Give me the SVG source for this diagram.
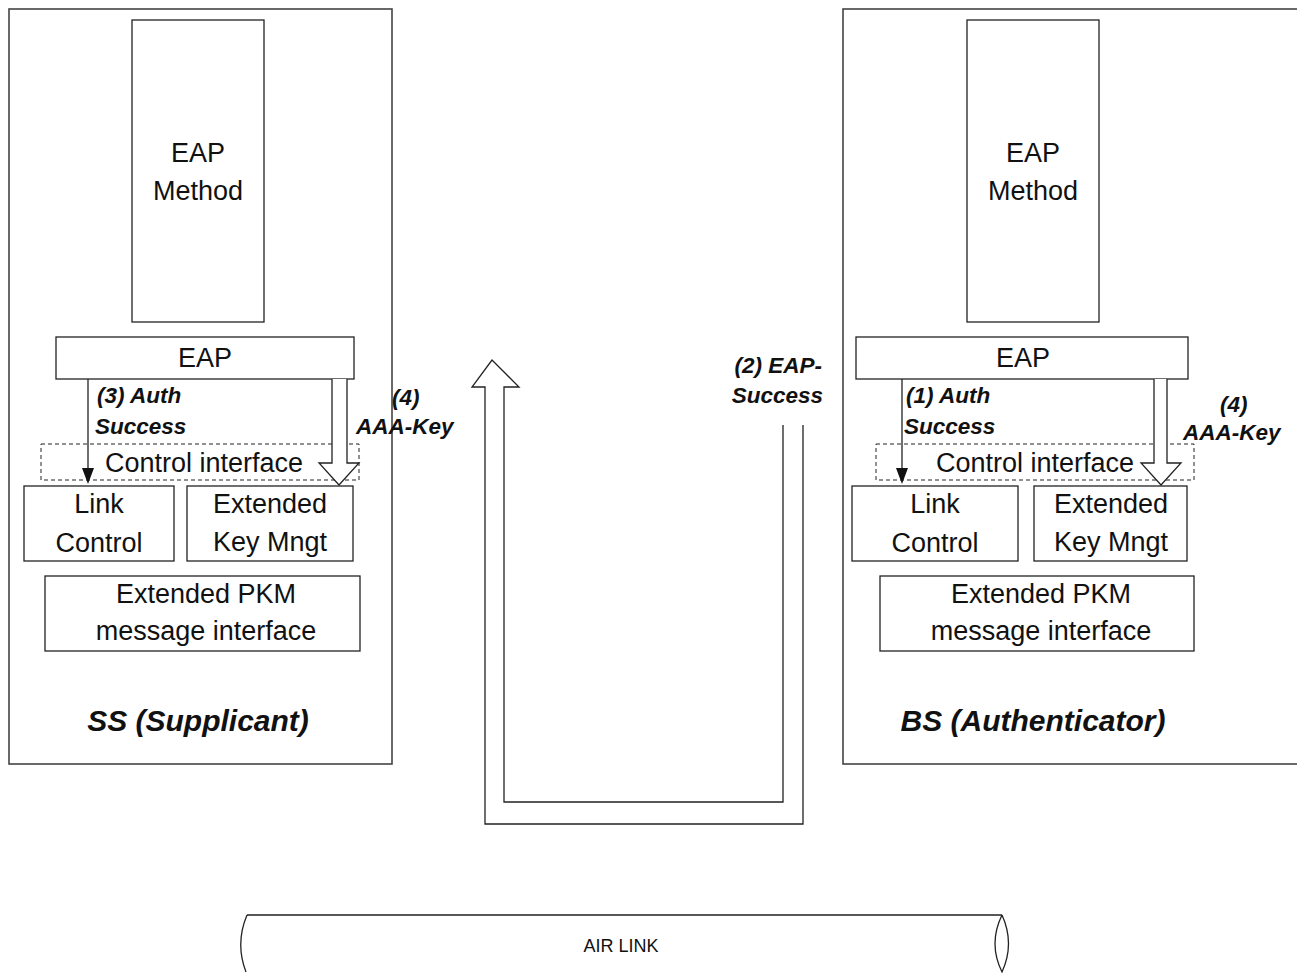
<svg xmlns="http://www.w3.org/2000/svg" width="1297" height="973" viewBox="0 0 1297 973">
  <style>
    .frame { fill: #fff; stroke: #444; stroke-width: 1.6; }
    .box { fill: #fff; stroke: #222; stroke-width: 1.3; }
    .dash { fill: none; stroke: #222; stroke-width: 1; stroke-dasharray: 4 3; }
    .lbl { font-family: "Liberation Sans", Arial, sans-serif; font-size: 27px; fill: #111; text-anchor: middle; }
    .step { font-family: "Liberation Sans", Arial, sans-serif; font-size: 22.5px; font-weight: bold; font-style: italic; fill: #111; }
    .title { font-family: "Liberation Sans", Arial, sans-serif; font-size: 30px; font-weight: bold; font-style: italic; fill: #111; text-anchor: middle; }
    .wire { fill: none; stroke: #222; stroke-width: 1.3; }
    .hollow { fill: #fff; stroke: #222; stroke-width: 1.3; stroke-linejoin: miter; }
    .air { font-family: "Liberation Sans", Arial, sans-serif; font-size: 18px; fill: #111; text-anchor: middle; }
  </style>

  <!-- Supplicant side -->
  <g id="ss">
    <rect class="frame" x="9" y="9" width="383" height="755"/>
    <text class="title" x="198" y="731">SS (Supplicant)</text>
  </g>
  <g id="ss-eap-method">
    <rect class="box" x="132" y="20" width="132" height="302"/>
    <text class="lbl" x="198" y="162">EAP</text>
    <text class="lbl" x="198" y="200">Method</text>
  </g>
  <g id="ss-eap">
    <rect class="box" x="56" y="337" width="298" height="42"/>
    <text class="lbl" x="205" y="367">EAP</text>
  </g>
  <g id="ss-control-interface">
    <rect class="dash" x="41" y="444" width="318" height="36"/>
    <text class="lbl" x="204" y="472">Control interface</text>
  </g>
  <g id="ss-link-control">
    <rect class="box" x="24" y="486" width="150" height="75"/>
    <text class="lbl" x="99" y="513">Link</text>
    <text class="lbl" x="99" y="552">Control</text>
  </g>
  <g id="ss-key-mngt">
    <rect class="box" x="187" y="486" width="166" height="75"/>
    <text class="lbl" x="270" y="513">Extended</text>
    <text class="lbl" x="270" y="551">Key Mngt</text>
  </g>
  <g id="ss-pkm">
    <rect class="box" x="45" y="576" width="315" height="75"/>
    <text class="lbl" x="206" y="603">Extended PKM</text>
    <text class="lbl" x="206" y="640">message interface</text>
  </g>

  <!-- Authenticator side -->
  <g id="bs">
    <rect class="frame" x="843" y="9" width="470" height="755"/>
    <text class="title" x="1033" y="731">BS (Authenticator)</text>
  </g>
  <g id="bs-eap-method">
    <rect class="box" x="967" y="20" width="132" height="302"/>
    <text class="lbl" x="1033" y="162">EAP</text>
    <text class="lbl" x="1033" y="200">Method</text>
  </g>
  <g id="bs-eap">
    <rect class="box" x="856" y="337" width="332" height="42"/>
    <text class="lbl" x="1023" y="367">EAP</text>
  </g>
  <g id="bs-control-interface">
    <rect class="dash" x="876" y="444" width="318" height="36"/>
    <text class="lbl" x="1035" y="472">Control interface</text>
  </g>
  <g id="bs-link-control">
    <rect class="box" x="852" y="486" width="166" height="75"/>
    <text class="lbl" x="935" y="513">Link</text>
    <text class="lbl" x="935" y="552">Control</text>
  </g>
  <g id="bs-key-mngt">
    <rect class="box" x="1034" y="486" width="153" height="75"/>
    <text class="lbl" x="1111" y="513">Extended</text>
    <text class="lbl" x="1111" y="551">Key Mngt</text>
  </g>
  <g id="bs-pkm">
    <rect class="box" x="880" y="576" width="314" height="75"/>
    <text class="lbl" x="1041" y="603">Extended PKM</text>
    <text class="lbl" x="1041" y="640">message interface</text>
  </g>

  <!-- Air link pipe -->
  <g id="air-link">
    <path class="wire" d="M247,915 H1002 M247,915 Q235,943.5 246,972 M1002,915 Q988,943.5 1002,972 Q1015,943.5 1002,915"/>
    <text class="air" x="621" y="952">AIR LINK</text>
  </g>

  <!-- Connectors -->
  <g id="connectors">
    <!-- (3) Auth Success -->
    <line class="wire" x1="88" y1="379" x2="88" y2="469"/>
    <polygon points="82,468 94,468 88,484" fill="#111"/>
    <!-- (4) AAA-Key, supplicant -->
    <path class="hollow" d="M332,379 V463 H319 L339,485 L359,463 H347 V379"/>
    <!-- (1) Auth Success -->
    <line class="wire" x1="902" y1="379" x2="902" y2="469"/>
    <polygon points="896,468 908,468 902,484" fill="#111"/>
    <!-- (4) AAA-Key, authenticator -->
    <path class="hollow" d="M1154,379 V463 H1141 L1161,485 L1181,463 H1167 V379"/>
    <!-- (2) EAP-Success over the air -->
    <path class="hollow" fill="none" d="M783,425 V802 H504 V387 H519 L492,360 L472,387 H485 V824 H803 V425"/>

    <text class="step" x="97" y="403">(3) Auth</text>
    <text class="step" x="95" y="434">Success</text>
    <text class="step" x="392" y="405">(4)</text>
    <text class="step" x="356" y="434">AAA-Key</text>
    <text class="step" x="906" y="403">(1) Auth</text>
    <text class="step" x="904" y="434">Success</text>
    <text class="step" x="1220" y="412">(4)</text>
    <text class="step" x="1183" y="440">AAA-Key</text>
    <text class="step" x="822" y="373" text-anchor="end">(2) EAP-</text>
    <text class="step" x="823" y="403" text-anchor="end">Success</text>
  </g>
</svg>
